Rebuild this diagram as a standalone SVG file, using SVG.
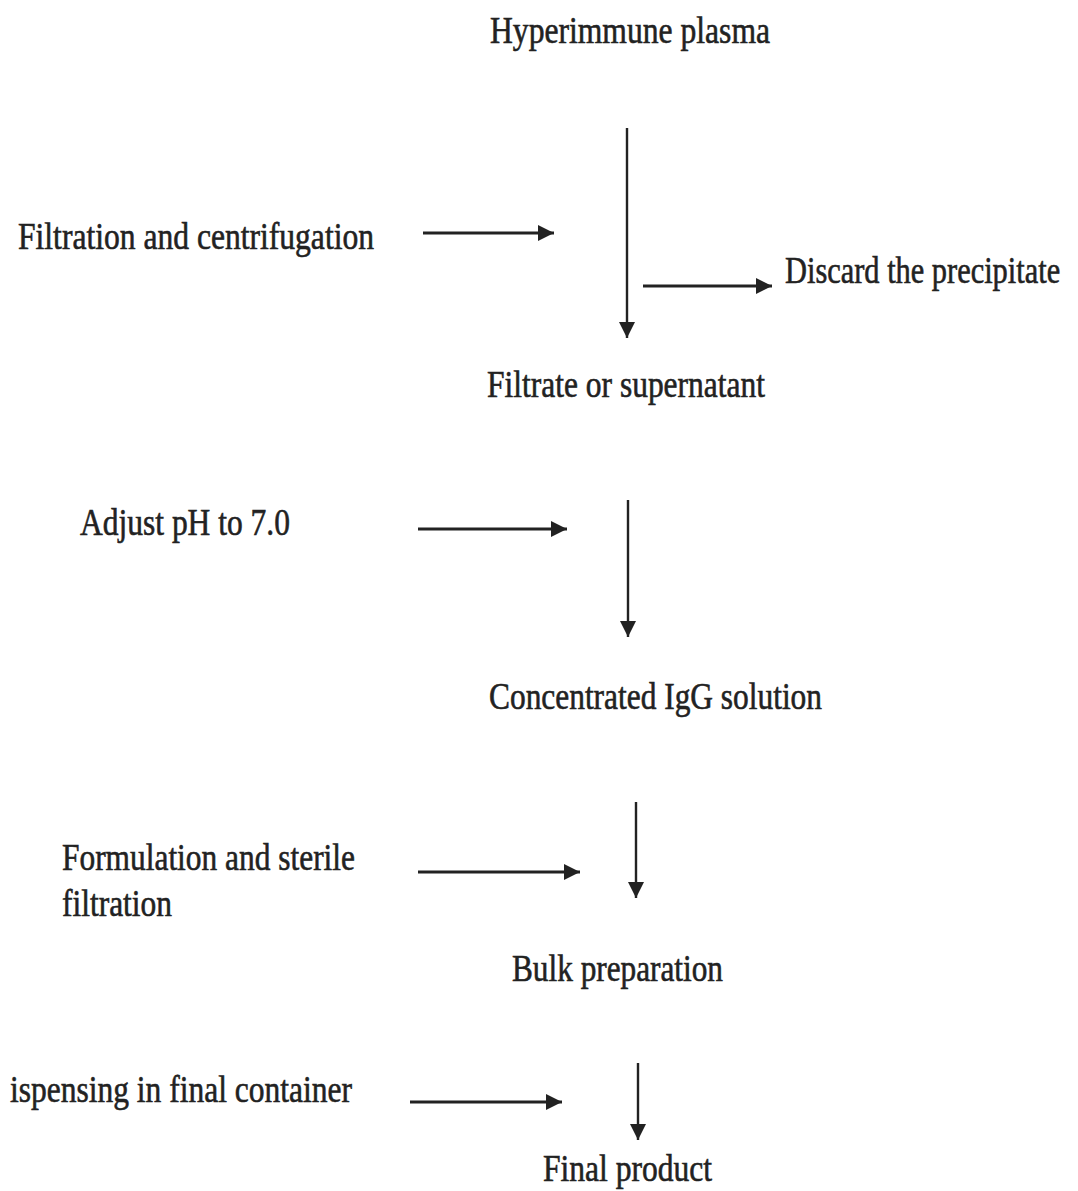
<svg xmlns="http://www.w3.org/2000/svg" width="1078" height="1191" viewBox="0 0 1078 1191">
<style>
text{font-family:"Liberation Serif","DejaVu Serif",serif;font-size:38px;fill:#222;stroke:#222;stroke-width:0.6;}
.c line{stroke:#222;stroke-width:3.2;}
.c line.v{stroke-width:2.4;}
</style>
<defs>
<marker id="ah" viewBox="0 0 10 10" refX="10" refY="5" markerWidth="16" markerHeight="16" markerUnits="userSpaceOnUse" orient="auto">
<path d="M0,0 L10,5 L0,10 z" fill="#222"/>
</marker>
</defs>
<rect width="1078" height="1191" fill="#fff"/>
<g id="n-hyperimmune"><text x="490" y="43" textLength="280" lengthAdjust="spacingAndGlyphs">Hyperimmune plasma</text></g>
<g id="n-filtration"><text x="18" y="249" textLength="356" lengthAdjust="spacingAndGlyphs">Filtration and centrifugation</text></g>
<g id="n-discard"><text transform="translate(785,283) scale(0.8,1)" x="0" y="0">Discard the precipitate</text></g>
<g id="n-filtrate"><text x="487" y="397" textLength="278" lengthAdjust="spacingAndGlyphs">Filtrate or supernatant</text></g>
<g id="n-adjust"><text x="80" y="535" textLength="210" lengthAdjust="spacingAndGlyphs">Adjust pH to 7.0</text></g>
<g id="n-concentrated"><text x="489" y="709" textLength="333" lengthAdjust="spacingAndGlyphs">Concentrated IgG solution</text></g>
<g id="n-formulation">
<text x="62" y="870" textLength="293" lengthAdjust="spacingAndGlyphs">Formulation and sterile</text>
<text x="62" y="916" textLength="110" lengthAdjust="spacingAndGlyphs">filtration</text>
</g>
<g id="n-bulk"><text x="512" y="981" textLength="211" lengthAdjust="spacingAndGlyphs">Bulk preparation</text></g>
<g id="n-dispensing"><text x="10" y="1102" textLength="342" lengthAdjust="spacingAndGlyphs">ispensing in final container</text></g>
<g id="n-final"><text x="543" y="1181" textLength="169" lengthAdjust="spacingAndGlyphs">Final product</text></g>
<g id="connectors" class="c">
<line class="v" x1="627" y1="128" x2="627" y2="338" marker-end="url(#ah)"/>
<line x1="423" y1="233" x2="554" y2="233" marker-end="url(#ah)"/>
<line x1="643" y1="286" x2="772" y2="286" marker-end="url(#ah)"/>
<line x1="418" y1="529" x2="567" y2="529" marker-end="url(#ah)"/>
<line class="v" x1="628" y1="500" x2="628" y2="637" marker-end="url(#ah)"/>
<line x1="418" y1="872" x2="580" y2="872" marker-end="url(#ah)"/>
<line class="v" x1="636" y1="802" x2="636" y2="898" marker-end="url(#ah)"/>
<line x1="410" y1="1102" x2="562" y2="1102" marker-end="url(#ah)"/>
<line class="v" x1="638" y1="1063" x2="638" y2="1140" marker-end="url(#ah)"/>
</g>
</svg>
